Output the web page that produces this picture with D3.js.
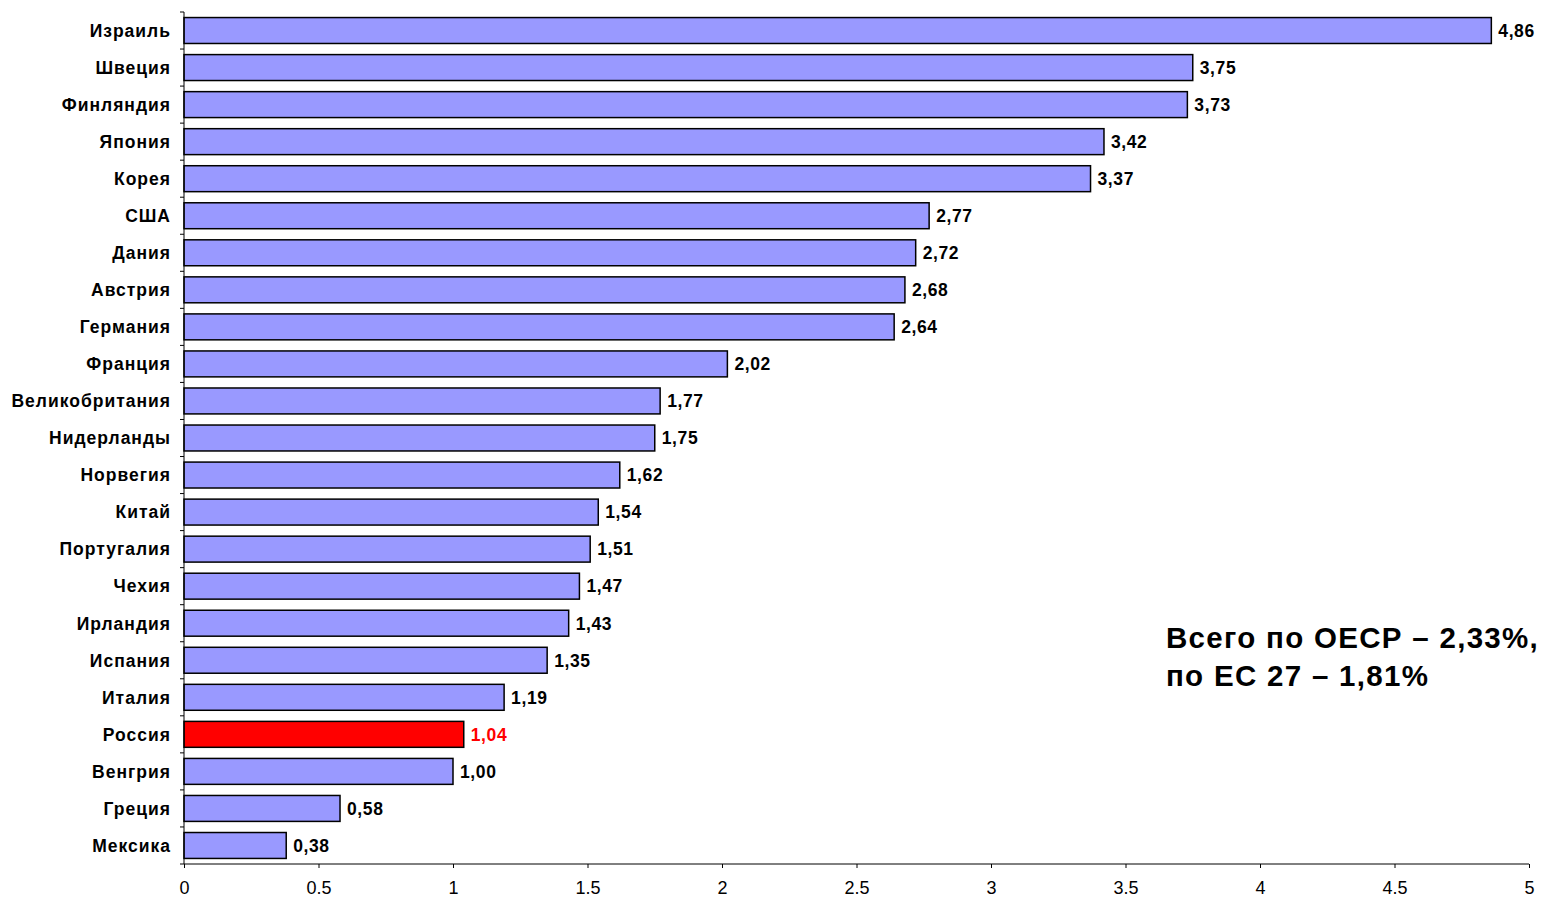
<!DOCTYPE html>
<html><head><meta charset="utf-8">
<script src="https://cdn.jsdelivr.net/npm/d3@7"></script>
<style>body{margin:0;background:#fff;} svg{display:block;}</style>
</head><body>
<script>
const countries = ["Израиль","Швеция","Финляндия","Япония","Корея","США","Дания","Австрия","Германия","Франция","Великобритания","Нидерланды","Норвегия","Китай","Португалия","Чехия","Ирландия","Испания","Италия","Россия","Венгрия","Греция","Мексика"];
const values = [4.86,3.75,3.73,3.42,3.37,2.77,2.72,2.68,2.64,2.02,1.77,1.75,1.62,1.54,1.51,1.47,1.43,1.35,1.19,1.04,1.00,0.58,0.38];
const xTicks = [0,0.5,1,1.5,2,2.5,3,3.5,4,4.5,5];
const highlight = "Россия";
const noteLines = ["Всего по ОЕСР – 2,33%,","по ЕС 27 – 1,81%"];

const W=1541,H=898;
const FONT="Liberation Sans, Arial, sans-serif";
const svg=d3.select("body").append("svg").attr("width",W).attr("height",H);
const x=d3.scaleLinear().domain([0,5]).range([184,1529]);
const y=d3.scaleBand().domain(countries).range([12,864]).paddingInner(0.3).paddingOuter(0.15);
const fmt=v=>v.toFixed(2).replace(".",",");

// bars
svg.selectAll("rect.bar").data(countries).join("rect")
 .attr("x",x(0)).attr("y",d=>y(d)).attr("height",y.bandwidth())
 .attr("width",(d,i)=>x(values[i])-x(0))
 .attr("fill",d=>d===highlight?"#FF0000":"#9999FF")
 .attr("stroke","#000").attr("stroke-width",1.5);

// value labels
svg.selectAll("text.val").data(countries).join("text")
 .attr("x",(d,i)=>x(values[i])+7).attr("y",d=>y(d)+y.bandwidth()/2)
 .attr("dy","0.36em").attr("font-family",FONT)
 .attr("font-weight","bold").attr("font-size",17.5).attr("letter-spacing",0.6)
 .attr("fill",d=>d===highlight?"#FF0000":"#000")
 .text((d,i)=>fmt(values[i]));

// category labels
svg.selectAll("text.cat").data(countries).join("text")
 .attr("x",171).attr("y",d=>y(d)+y.bandwidth()/2).attr("dy","0.36em")
 .attr("text-anchor","end").attr("font-family",FONT).attr("letter-spacing",1)
 .attr("font-weight","bold").attr("font-size",17.5).text(d=>d);

// y axis line and ticks at band boundaries
svg.append("line").attr("x1",184).attr("x2",184).attr("y1",12).attr("y2",864).attr("stroke","#000").attr("stroke-width",1);
d3.range(countries.length+1).forEach(i=>{
  const yy=12+i*(852/countries.length);
  svg.append("line").attr("x1",180).attr("x2",184).attr("y1",yy).attr("y2",yy).attr("stroke","#000");
});

// x axis
const xa=d3.axisBottom(x).tickValues(xTicks).tickSize(4).tickFormat(d=>String(d));
const g=svg.append("g").attr("transform","translate(0,864)").call(xa);
g.select(".domain").attr("stroke","#000").attr("d","M184,0H1529");
g.selectAll(".tick line").attr("stroke","#000");
g.selectAll(".tick text").attr("font-family",FONT).attr("font-size",18).attr("fill","#000").attr("y",17);

// note
svg.selectAll("text.note").data(noteLines).join("text")
 .attr("x",1166).attr("y",(d,i)=>648+i*38)
 .attr("font-family",FONT).attr("font-weight","bold").attr("font-size",29.5).attr("letter-spacing",1.3)
 .text(d=>d);
</script>
</body></html>
